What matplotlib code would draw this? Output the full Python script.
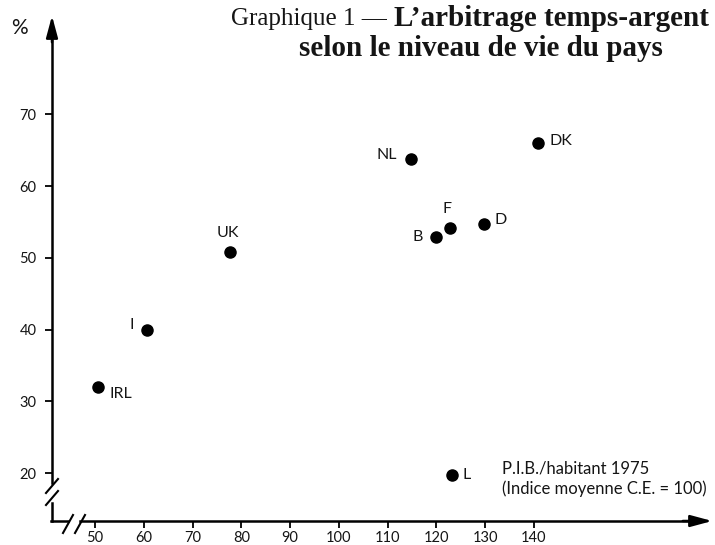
import matplotlib
matplotlib.use("Agg")
import matplotlib.pyplot as plt

# donnees
pays = ["IRL", "I", "UK", "NL", "B", "F", "D", "DK", "L"]
pib = [50.6, 60.7, 77.7, 114.8, 119.9, 122.8, 129.7, 140.8, 123.2]
pct = [32.0, 39.9, 50.8, 63.8, 52.9, 54.1, 54.75, 66.0, 19.7]
xticks = [50, 60, 70, 80, 90, 100, 110, 120, 130, 140]
yticks = [20, 30, 40, 50, 60, 70]

# position des etiquettes (decalage en pixels, alignement)
decal = {
    "IRL": (12, -7, "left"),
    "I": (-13, 5, "right"),
    "UK": (-2, 19, "center"),
    "NL": (-14, 4, "right"),
    "B": (-13, 0, "right"),
    "F": (-3, 19, "center"),
    "D": (11, 4, "left"),
    "DK": (12, 2, "left"),
    "L": (10, 0, "left"),
}

W, H = 715, 545
fig = plt.figure(figsize=(W / 100, H / 100), dpi=100)
sans = "Lato"
noir = "#151515"

def fx(px):  # pixels image -> fraction figure
    return px / W

def fy(py):
    return 1 - py / H

# axes: coin en bas a gauche au pixel (52, 521)
ax = fig.add_axes([fx(52), fy(521), fx(713) - fx(52), fy(15) - fy(521)])
ax.set_xlim(41.18, 176.7)
ax.set_ylim(13.31, 83.84)
for s in ax.spines.values():
    s.set_visible(False)
ax.set_facecolor("none")

ax.set_xticks(xticks)
ax.set_yticks(yticks)
ax.tick_params(axis="x", direction="out", length=5, width=1.3, pad=2, labelsize=10.5)
ax.tick_params(axis="y", direction="out", length=5, width=1.3, pad=6, labelsize=10.5)
for lab in ax.get_xticklabels() + ax.get_yticklabels():
    lab.set_fontfamily(sans)
    lab.set_color(noir)

ax.plot(pib, pct, "o", color="black", markersize=8)
for p, x, y in zip(pays, pib, pct):
    dx, dy, ha = decal[p]
    ax.annotate(p, (x, y), xytext=(dx, dy), textcoords="offset pixels",
                ha=ha, va="center", fontsize=11.5, family=sans, color=noir)

# axes dessines a la main avec coupures
lw = 1.8
tf = fig.transFigure
fig.add_artist(plt.Line2D([fx(52), fx(52)], [fy(483), fy(40)], color="black", lw=lw, transform=tf))
fig.add_artist(plt.Line2D([fx(52), fx(52)], [fy(521), fy(503)], color="black", lw=lw, transform=tf))
fig.add_artist(plt.Line2D([fx(51.2), fx(68)], [fy(521), fy(521)], color="black", lw=lw, transform=tf))
fig.add_artist(plt.Line2D([fx(80), fx(690)], [fy(521), fy(521)], color="black", lw=lw, transform=tf))
# coupures
for (x0, y0, x1, y1) in [(46, 493, 58, 479), (46, 505, 58, 491), (63, 533, 73, 515), (75, 533, 85, 515)]:
    fig.add_artist(plt.Line2D([fx(x0), fx(x1)], [fy(y0), fy(y1)], color="black", lw=1.5, transform=tf))
# fleches
ax.annotate("", xy=(fx(52), fy(13)), xytext=(fx(52), fy(45)), xycoords=tf, textcoords=tf,
            arrowprops=dict(arrowstyle="-|>,head_length=1.3,head_width=0.35", color="black", lw=lw))
ax.annotate("", xy=(fx(715), fy(521)), xytext=(fx(680), fy(521)), xycoords=tf, textcoords=tf,
            arrowprops=dict(arrowstyle="-|>,head_length=1.3,head_width=0.35", color="black", lw=lw))

fig.text(fx(19), fy(28), "%", fontsize=15, family=sans, ha="center", va="center", color=noir)

# titre
serif = "Liberation Serif"
fig.text(fx(387), fy(19), "Graphique 1 —", fontsize=18, family=serif, ha="right", va="center", color=noir)
fig.text(fx(394), fy(19), "L\u2019arbitrage temps-argent", fontsize=21, family=serif,
         weight="bold", ha="left", va="center", color=noir)
fig.text(fx(481), fy(48), "selon le niveau de vie du pays", fontsize=21, family=serif,
         weight="bold", ha="center", va="center", color=noir)

fig.text(fx(502), fy(469), "P.I.B./habitant 1975", fontsize=12, family=sans, ha="left", va="center", color=noir)
fig.text(fx(502), fy(489), "(Indice moyenne C.E. = 100)", fontsize=12, family=sans, ha="left", va="center", color=noir)

fig.savefig("out.png", dpi=100)
